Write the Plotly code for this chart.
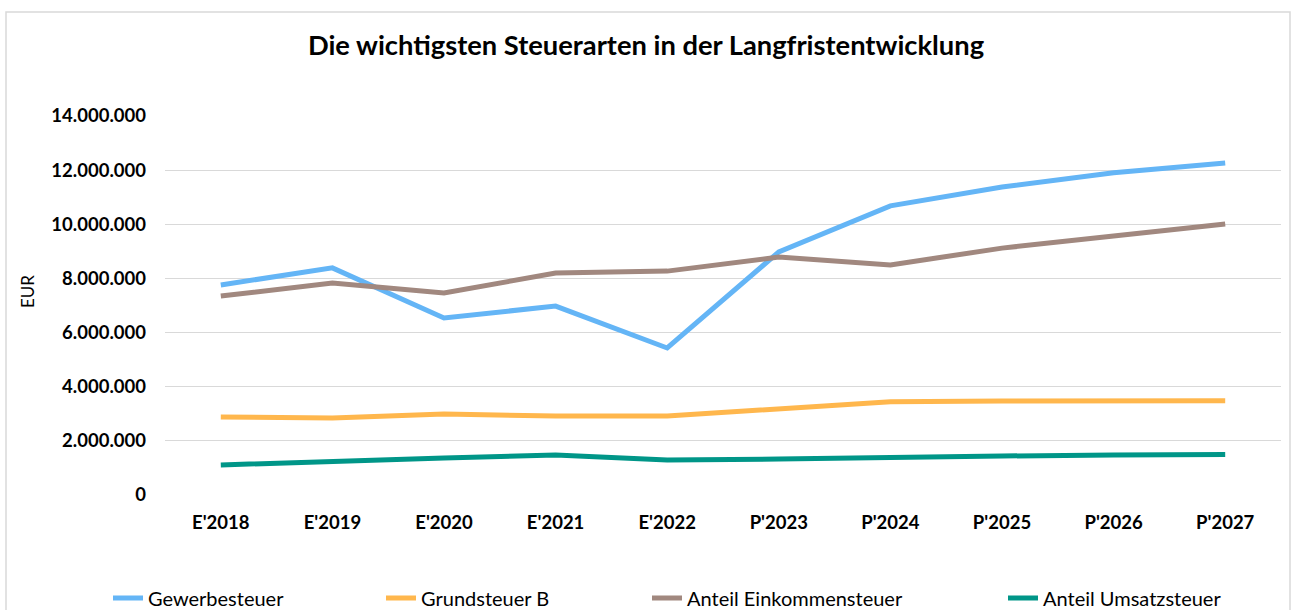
import plotly.graph_objects as go

categories = ["E'2018", "E'2019", "E'2020", "E'2021", "E'2022",
              "P'2023", "P'2024", "P'2025", "P'2026", "P'2027"]
gewerbesteuer = [7760000, 8390000, 6540000, 6980000, 5430000,
                 8980000, 10680000, 11380000, 11900000, 12260000]
grundsteuer_b = [2880000, 2840000, 2990000, 2920000, 2920000,
                 3180000, 3440000, 3470000, 3470000, 3480000]
einkommensteuer = [7350000, 7830000, 7460000, 8200000, 8270000,
                   8790000, 8500000, 9120000, 9570000, 10010000]
umsatzsteuer = [1110000, 1260000, 1370000, 1480000, 1290000,
                1330000, 1400000, 1440000, 1480000, 1500000]

series = [
    ("Gewerbesteuer", gewerbesteuer, "#64B5F6"),
    ("Grundsteuer B", grundsteuer_b, "#FFB74D"),
    ("Anteil Einkommensteuer", einkommensteuer, "#A1887F"),
    ("Anteil Umsatzsteuer", umsatzsteuer, "#009688"),
]

FONT = "Lato"

L, R, T, B = 165, 11, 116, 115
W, H = 1292, 610
pw = W - L - R
ph = H - T - B

def px_x(p):
    return (p - L) / pw

def px_y(p):
    return (H - B - p) / ph

legend_text_x = [148, 421, 687, 1043]
legend_ids = ["legend", "legend2", "legend3", "legend4"]

fig = go.Figure()
for (name, vals, color), lid in zip(series, legend_ids):
    fig.add_trace(go.Scatter(
        x=categories, y=vals, name=name, mode="lines",
        line=dict(color=color, width=5), legend=lid,
    ))

legend_layout = {}
for lid, tx in zip(legend_ids, legend_text_x):
    legend_layout[lid] = dict(
        orientation="h", x=px_x(tx - 40), xanchor="left",
        y=px_y(598), yanchor="middle",
        font=dict(family=FONT, size=20, color="#000000"),
        bgcolor="rgba(0,0,0,0)", borderwidth=0,
    )

fig.update_layout(
    width=W, height=H,
    margin=dict(l=L, r=R, t=T, b=B, autoexpand=False),
    paper_bgcolor="white", plot_bgcolor="white",
    separators=",.",
    font=dict(family=FONT, color="#000000"),
    title=dict(
        text="<b>Die wichtigsten Steuerarten in der Langfristentwicklung</b>",
        x=0.5, xref="container", xanchor="center",
        y=1 - 45 / H, yref="container", yanchor="middle",
        font=dict(family=FONT, size=27.3, color="#000000"),
    ),
    xaxis=dict(
        range=[-0.5, 9.5],
        showgrid=False, showline=False, zeroline=False,
        tickfont=dict(family=FONT, size=18.5, color="#000000", weight="bold"),
        ticklabelstandoff=14,
    ),
    yaxis=dict(
        range=[0, 14000000], dtick=2000000, tickformat=",d",
        showgrid=True, gridcolor="#D9D9D9", gridwidth=1.3,
        zeroline=False, showline=False,
        tickfont=dict(family=FONT, size=18.5, color="#000000", weight="bold"),
        ticklabelstandoff=18,
    ),
    showlegend=True,
    annotations=[dict(
        text="EUR", textangle=-90, showarrow=False,
        xref="paper", yref="paper", x=px_x(27), y=px_y(292),
        xanchor="center", yanchor="middle",
        font=dict(family=FONT, size=17, color="#000000"),
    )],
    shapes=[dict(
        type="rect", xref="paper", yref="paper",
        x0=px_x(6), x1=px_x(1290), y0=px_y(640), y1=px_y(12),
        line=dict(color="#D9D9D9", width=1.5), layer="below",
    )],
    **legend_layout,
)

fig.write_html("out.html",
               config={"displayModeBar": False},
               post_script="document.body.style.margin='0';document.body.style.overflow='hidden';")
